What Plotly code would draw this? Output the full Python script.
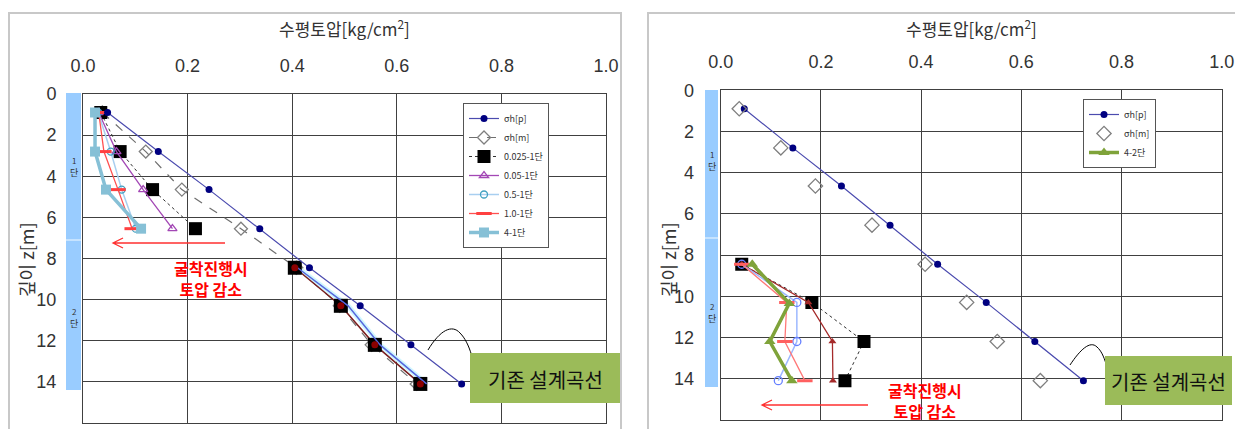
import plotly.graph_objects as go

# page is rendered with an 8px body margin -> shift the layout accordingly
OX, OY = 8, 8
W, H = 1243 - OX, 429 - OY
def px(x): return (x - OX) / W
def py(y): return 1 - (y - OY) / H

# ---------------- data ----------------
depth_all = [0.9, 2.8, 4.65, 6.55, 8.45, 10.3, 12.2, 14.1]
sigma_p = [0.047, 0.144, 0.241, 0.338, 0.433, 0.530, 0.627, 0.724]
sigma_m = [0.037, 0.120, 0.189, 0.302, 0.408, 0.491, 0.552, 0.638]

depth_st1 = [0.9, 2.8, 4.65, 6.55]
s_0025_1 = [0.034, 0.071, 0.133, 0.215]
s_005_1 = [0.030, 0.064, 0.115, 0.171]
s_05_1 = [0.029, 0.053, 0.074, 0.101]
s_10_1 = [0.030, 0.040, 0.067, 0.094]
s_4_1 = [0.023, 0.023, 0.044, 0.111]

depth_st2 = [8.45, 10.3, 12.2, 14.1]
s_low_sq = [0.405, 0.493, 0.558, 0.645]
s_low_blue = [0.410, 0.507, 0.568, 0.657]

s_0025_2 = [0.042, 0.182, 0.286, 0.248]
s_005_2 = [0.042, 0.175, 0.223, 0.224]
s_05_2 = [0.042, 0.152, 0.152, 0.115]
s_10_2 = [0.042, 0.132, 0.128, 0.168]
depth_4_2 = [8.45, 10.35, 12.2, 14.1]
s_4_2 = [0.063, 0.137, 0.098, 0.142]

x_ticks = [0.0, 0.2, 0.4, 0.6, 0.8, 1.0]
y_ticks = [0, 2, 4, 6, 8, 10, 12, 14, 16]

NAVY = "#000080"
PLINE = "#4B4BAF"

fig = go.Figure()

def add(x, y, xa, ya, **kw):
    fig.add_trace(go.Scatter(x=x, y=y, xaxis=xa, yaxis=ya, **kw))

# ---------- left chart ----------
add(sigma_m, depth_all, "x", "y", name="σh[m]", mode="lines+markers", legend="legend",
    line=dict(color="#6f6f6f", width=1.2, dash="dash"),
    marker=dict(symbol="diamond-open", size=10, color="#7f7f7f", line=dict(width=1.3)))
add(s_low_blue, depth_st2, "x", "y", showlegend=False, mode="lines",
    line=dict(color="#CFF6FF", width=5))
add(s_low_sq, depth_st2, "x", "y", showlegend=False, mode="lines+markers",
    line=dict(color="#7A1F1F", width=1.5),
    marker=dict(symbol="square", size=14, color="#000000"))
add(s_low_blue, depth_st2, "x", "y", showlegend=False, mode="lines",
    line=dict(color="#5566DD", width=1.5))
add(s_low_sq, depth_st2, "x", "y", showlegend=False, mode="markers",
    marker=dict(symbol="circle", size=7, color="#8B0000"))
add(s_0025_1, depth_st1, "x", "y", name="0.025-1단", mode="lines+markers", legend="legend",
    line=dict(color="#333333", width=1, dash="dot"),
    marker=dict(symbol="square", size=13, color="#000000"))
add(s_005_1, depth_st1, "x", "y", name="0.05-1단", mode="lines+markers", legend="legend",
    line=dict(color="#A347B5", width=1.3),
    marker=dict(symbol="triangle-up-open", size=8, color="#A347B5", line=dict(width=1.3)))
add(s_05_1, depth_st1, "x", "y", name="0.5-1단", mode="lines+markers", legend="legend",
    line=dict(color="#A8CFF0", width=1.5),
    marker=dict(symbol="circle-open", size=7, color="#40A0C0", line=dict(width=1.3)))
add(s_10_1, depth_st1, "x", "y", name="1.0-1단", mode="lines+markers", legend="legend",
    line=dict(color="#FF5050", width=1.3),
    marker=dict(symbol="line-ew", size=11, color="#FF4040", line=dict(width=3, color="#FF4040")))
add(s_4_1, depth_st1, "x", "y", name="4-1단", mode="lines+markers", legend="legend",
    line=dict(color="#86C0D6", width=3.5),
    marker=dict(symbol="square", size=10, color="#86C0D6"))
add(sigma_p, depth_all, "x", "y", name="σh[p]", mode="lines+markers", legend="legend",
    line=dict(color=PLINE, width=1.2),
    marker=dict(symbol="circle", size=7, color=NAVY))

# ---------- right chart ----------
add(s_0025_2, depth_st2, "x2", "y2", showlegend=False, mode="lines+markers",
    line=dict(color="#333333", width=1, dash="dot"),
    marker=dict(symbol="square", size=13, color="#000000"))
add(s_005_2, depth_st2, "x2", "y2", showlegend=False, mode="lines+markers",
    line=dict(color="#A52A2A", width=1.3),
    marker=dict(symbol="triangle-up", size=7, color="#A52A2A"))
add(s_05_2, depth_st2, "x2", "y2", showlegend=False, mode="lines+markers",
    line=dict(color="#9DB8FF", width=1.5),
    marker=dict(symbol="circle-open", size=8, color="#6680FF", line=dict(width=1.3)))
add(s_10_2, depth_st2, "x2", "y2", showlegend=False, mode="lines+markers",
    line=dict(color="#FF7878", width=1.3),
    marker=dict(symbol="line-ew", size=11, color="#FF6060", line=dict(width=3, color="#FF6060")))
add(s_4_2, depth_4_2, "x2", "y2", name="4-2단", mode="lines+markers", legend="legend2",
    line=dict(color="#7FA33A", width=3.5),
    marker=dict(symbol="triangle-up", size=10, color="#7FA33A"))
add(sigma_p, depth_all, "x2", "y2", name="σh[p]", mode="lines+markers", legend="legend2",
    line=dict(color=PLINE, width=1.2),
    marker=dict(symbol="circle", size=7, color=NAVY))
add(sigma_m, depth_all, "x2", "y2", name="σh[m]", mode="markers", legend="legend2",
    marker=dict(symbol="diamond-open", size=11, color="#7f7f7f", line=dict(width=1.3)))

order = ["σh[p]", "σh[m]", "0.025-1단", "0.05-1단", "0.5-1단", "1.0-1단", "4-1단", "4-2단"]
for t in fig.data:
    if t.name in order:
        t.legendrank = 1 + order.index(t.name)

GRID = "#404040"
TICKFONT = dict(family="Liberation Sans, Arial", size=18, color="#333333")

def xax(domain):
    return dict(domain=domain, range=[0, 1], side="top", tickvals=x_ticks,
                tickformat=".1f", showgrid=True, gridcolor=GRID, gridwidth=1,
                showline=True, linecolor=GRID, mirror=True, zeroline=False,
                ticks="outside", ticklen=0, ticklabelstandoff=14, tickfont=TICKFONT,
                automargin=False)

def yax(domain, anchor):
    return dict(domain=domain, range=[16, 0], tickvals=y_ticks, anchor=anchor,
                showgrid=True, gridcolor=GRID, gridwidth=1,
                showline=True, linecolor=GRID, mirror=True, zeroline=False,
                ticks="outside", ticklen=0, ticklabelstandoff=22, tickfont=TICKFONT,
                automargin=False)

LEGFONT = dict(family="Noto Sans CJK KR", size=9, color="#333333")
fig.update_layout(
    width=W, height=H,
    margin=dict(l=0, r=0, t=0, b=0, pad=0, autoexpand=False),
    paper_bgcolor="white", plot_bgcolor="white",
    xaxis=dict(xax([px(83), px(606)]), anchor="y"),
    yaxis=yax([py(423), py(94)], "x"),
    xaxis2=dict(xax([px(720.7), px(1221.7)]), anchor="y2"),
    yaxis2=yax([py(419.8), py(90.2)], "x2"),
    legend=dict(x=px(463), y=py(103), xanchor="left", yanchor="top",
                bgcolor="white", bordercolor="#555555", borderwidth=1,
                font=LEGFONT, itemwidth=30, tracegroupgap=0),
    legend2=dict(x=px(1083), y=py(99), xanchor="left", yanchor="top",
                 bgcolor="white", bordercolor="#555555", borderwidth=1,
                 font=LEGFONT, itemwidth=30, tracegroupgap=0),
    showlegend=True,
)

shapes = []
annos = []

def P(x, y):
    return f"{px(x):.5f},{py(y):.5f}"

# panel borders
for (x0, x1) in [(9, 621), (648, 1237)]:
    shapes.append(dict(type="rect", xref="paper", yref="paper", x0=px(x0), x1=px(x1),
                       y0=py(445), y1=py(13), line=dict(color="#C8C8C8", width=2),
                       fillcolor="rgba(0,0,0,0)", layer="below"))

# stage bars
for (bx0, bx1, ytop, ymid, ybot, l1y, l2y) in [(66, 81, 93, 240, 390, 167, 318),
                                               (705, 718, 90, 238, 387, 161, 313)]:
    shapes.append(dict(type="rect", xref="paper", yref="paper", x0=px(bx0), x1=px(bx1),
                       y0=py(ymid), y1=py(ytop), fillcolor="#99CCFF", line=dict(width=0)))
    shapes.append(dict(type="rect", xref="paper", yref="paper", x0=px(bx0), x1=px(bx1),
                       y0=py(ybot), y1=py(ymid), fillcolor="#99CCFF", line=dict(width=0)))
    shapes.append(dict(type="line", xref="paper", yref="paper", x0=px(bx0), x1=px(bx1),
                       y0=py(ymid), y1=py(ymid), line=dict(color="#D6EBFF", width=1.5)))
    for lab, ly in [("1", l1y), ("2", l2y)]:
        annos.append(dict(xref="paper", yref="paper", x=px((bx0 + bx1) / 2), y=py(ly),
                          text=f"<span style='font-size:8px'>{lab}</span><br>단",
                          showarrow=False, font=dict(family="Noto Sans CJK KR", size=9, color="#333333"),
                          xanchor="center", yanchor="middle"))

# axis titles
for cx in [344.5, 971]:
    annos.append(dict(xref="paper", yref="paper", x=px(cx), y=py(28),
                      text="수평토압[kg/cm<sup>2</sup>]", showarrow=False,
                      font=dict(family="Noto Sans CJK KR", size=17, color="#333333"),
                      xanchor="center", yanchor="middle"))
for cx in [26, 668]:
    annos.append(dict(xref="paper", yref="paper", x=px(cx), y=py(260),
                      text="깊이 z[m]", showarrow=False, textangle=-90,
                      font=dict(family="Noto Sans CJK KR", size=18, color="#333333"),
                      xanchor="center", yanchor="middle"))

# red arrows + text
for (xa, xb, ya, tx, ty) in [(225, 113, 243, 211, 278), (868, 762, 405, 925, 400)]:
    shapes.append(dict(type="path", xref="paper", yref="paper",
                       path=f"M{P(xa, ya)} L{P(xb, ya)} M{P(xb + 10, ya - 5)} L{P(xb, ya)} L{P(xb + 10, ya + 5)}",
                       line=dict(color="#FF3030", width=1.3)))
    annos.append(dict(xref="paper", yref="paper", x=px(tx), y=py(ty),
                      text="<b>굴착진행시<br>토압 감소</b>", showarrow=False,
                      font=dict(family="Noto Sans CJK KR", size=16, color="#FF0000"),
                      xanchor="center", yanchor="middle"))

# design-curve callouts
curves = [
    [(428, 350), (440, 330), (452, 324), (460, 333), (470, 343), (474, 362), (480, 390)],
    [(1070, 365), (1080, 350), (1090, 340), (1097, 347), (1105, 354), (1108, 370), (1112, 392)],
]
for c in curves:
    path = f"M{P(*c[0])} C{P(*c[1])} {P(*c[2])} {P(*c[3])} C{P(*c[4])} {P(*c[5])} {P(*c[6])}"
    shapes.append(dict(type="path", xref="paper", yref="paper", path=path,
                       line=dict(color="#000000", width=1)))

for (x0, x1, y0, y1) in [(470, 620, 353, 403), (1105, 1232, 356, 405)]:
    shapes.append(dict(type="rect", xref="paper", yref="paper", x0=px(x0), x1=px(x1),
                       y0=py(y1), y1=py(y0), fillcolor="#9BBB59", line=dict(width=0)))
    annos.append(dict(xref="paper", yref="paper", x=px((x0 + x1) / 2), y=py((y0 + y1) / 2 + 1),
                      text="기존 설계곡선", showarrow=False,
                      font=dict(family="Noto Sans CJK KR", size=20, color="#111111"),
                      xanchor="center", yanchor="middle"))

fig.update_layout(shapes=shapes, annotations=annos)
fig.write_html("out.html")
